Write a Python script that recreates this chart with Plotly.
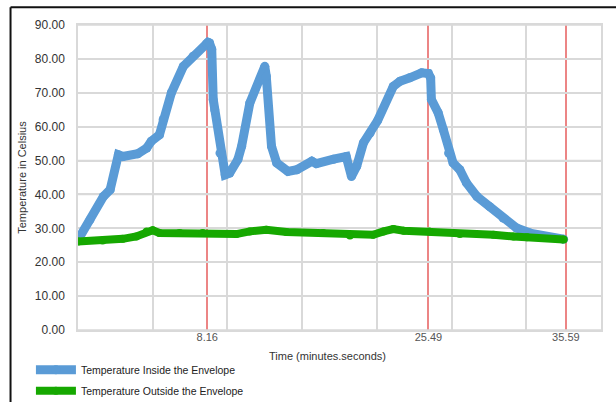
import plotly.graph_objects as go

# Reading number (sample index) along the run and the logged temperatures
inside_reading = [0, 16, 34, 43, 54, 60, 80, 92, 98, 109, 114, 125, 141, 154, 172, 174,
                  176, 179, 181, 183, 190, 197, 203, 214, 219, 230, 250, 252, 259, 266,
                  281, 293, 313, 319, 342, 359, 366, 373, 382, 391, 401, 422, 431, 444,
                  460, 469, 472, 473, 482, 489, 496, 502, 511, 520, 534, 551, 569, 587,
                  605, 627, 650]
inside_temp = [26.6, 32.5, 39.4, 41.4, 51.7, 51.2, 52.0, 53.7, 55.7, 57.6, 62.1, 70.0, 77.8,
               80.8, 84.5, 84.9, 84.7, 82.8, 68.0, 65.0, 52.2, 45.8, 46.3, 50.3, 54.2, 67.0,
               77.8, 74.9, 54.2, 49.3, 46.8, 47.3, 49.8, 49.1, 50.4, 51.2, 45.3, 48.3, 55.2,
               58.1, 61.8, 71.9, 73.4, 74.4, 75.9, 75.7, 74.4, 68.0, 64.1, 59.1, 52.2, 49.3,
               47.3, 43.4, 39.4, 36.4, 33.0, 30.1, 28.6, 27.6, 26.8]

outside_reading = [0, 33, 60, 78, 92, 100, 109, 136, 167, 212, 230, 252, 279, 328, 364,
                   395, 409, 422, 436, 470, 511, 556, 583, 601, 650]
outside_temp = [26.1, 26.4, 26.9, 27.6, 29.1, 29.4, 28.6, 28.6, 28.6, 28.3, 29.1, 29.6,
                28.9, 28.6, 27.9, 28.1, 29.1, 29.8, 29.3, 29.1, 28.3, 28.1, 27.6, 27.4, 26.7]

# Labelled time marks (minutes.seconds) and the readings they fall on
mark_readings = [173, 469, 653]
mark_labels = ["8.16", "25.49", "35.59"]

y_ticks = [0, 10, 20, 30, 40, 50, 60, 70, 80, 90]
x_grid = [0, 100, 200, 300, 400, 500, 600, 700]

BLUE = "#5a9bd6"
GREEN = "#16a800"
GRID = "#d9d9d9"
FONT = "Liberation Sans, Arial, sans-serif"

x_lo, x_hi = x_grid[0], x_grid[-1]

fig = go.Figure()

# Horizontal guide lines at each temperature tick, laid under the data series
grid_x, grid_y = [], []
for yv in y_ticks:
    grid_x += [x_lo, x_hi, None]
    grid_y += [yv, yv, None]
fig.add_trace(go.Scatter(
    x=grid_x, y=grid_y, mode="lines", line=dict(color=GRID, width=1.5),
    showlegend=False, hoverinfo="skip",
))

fig.add_trace(go.Scatter(
    x=inside_reading, y=inside_temp, mode="lines+markers",
    name="Temperature Inside the Envelope", legendgroup="inside",
    line=dict(color=BLUE, width=9), marker=dict(color=BLUE, size=9),
))
fig.add_trace(go.Scatter(
    x=outside_reading, y=outside_temp, mode="lines+markers",
    name="Temperature Outside the Envelope", legendgroup="outside",
    line=dict(color=GREEN, width=8), marker=dict(color=GREEN, size=8),
))

fig.update_xaxes(
    range=[x_lo, x_hi],
    tickmode="array", tickvals=mark_readings, ticktext=mark_labels,
    showgrid=True, gridcolor="#ec8585", gridwidth=1.5,
    minor=dict(tickmode="array", tickvals=x_grid, showgrid=True,
               gridcolor=GRID, gridwidth=1.5, ticks=""),
    ticks="", zeroline=False,
    showline=True, mirror=True, linecolor=GRID, linewidth=1.5,
    tickfont=dict(family=FONT, size=11, color="#555555"),
    ticklabelstandoff=-4,
)
fig.update_yaxes(
    range=[0, 90],
    tickmode="array", tickvals=y_ticks, tickformat=".2f",
    showgrid=True, gridcolor=GRID, gridwidth=1.5,
    ticks="", zeroline=False,
    showline=True, mirror=True, linecolor=GRID, linewidth=1.5,
    tickfont=dict(family=FONT, size=12, color="#333333"),
    ticklabelstandoff=9,
    title=dict(text="Temperature in Celsius", standoff=6,
               font=dict(family=FONT, size=11, color="#333333")),
)

fig.add_annotation(
    text="Time (minutes.seconds)", xref="paper", yref="paper",
    x=0.477, y=-0.084, xanchor="center", yanchor="middle", showarrow=False,
    font=dict(family=FONT, size=11, color="#333333"),
)

# Black frame along the top and left edges
fig.add_shape(type="line", xref="paper", yref="paper", x0=-0.129, x1=1.05,
              y0=1.058, y1=1.058, line=dict(color="#111111", width=2))
fig.add_shape(type="line", xref="paper", yref="paper", x0=-0.129, x1=-0.129,
              y0=1.058, y1=-0.25, line=dict(color="#111111", width=2))

fig.update_layout(
    width=616, height=402,
    margin=dict(l=78, r=15, t=25, b=72, autoexpand=False),
    paper_bgcolor="white", plot_bgcolor="white",
    showlegend=True,
    legend=dict(orientation="v", x=-0.09, xanchor="left", y=-0.083, yanchor="top",
                font=dict(family=FONT, size=10.5, color="#222222"),
                bgcolor="rgba(0,0,0,0)", tracegroupgap=2, itemwidth=40),
    font=dict(family=FONT),
)

fig.write_html("out.html")
